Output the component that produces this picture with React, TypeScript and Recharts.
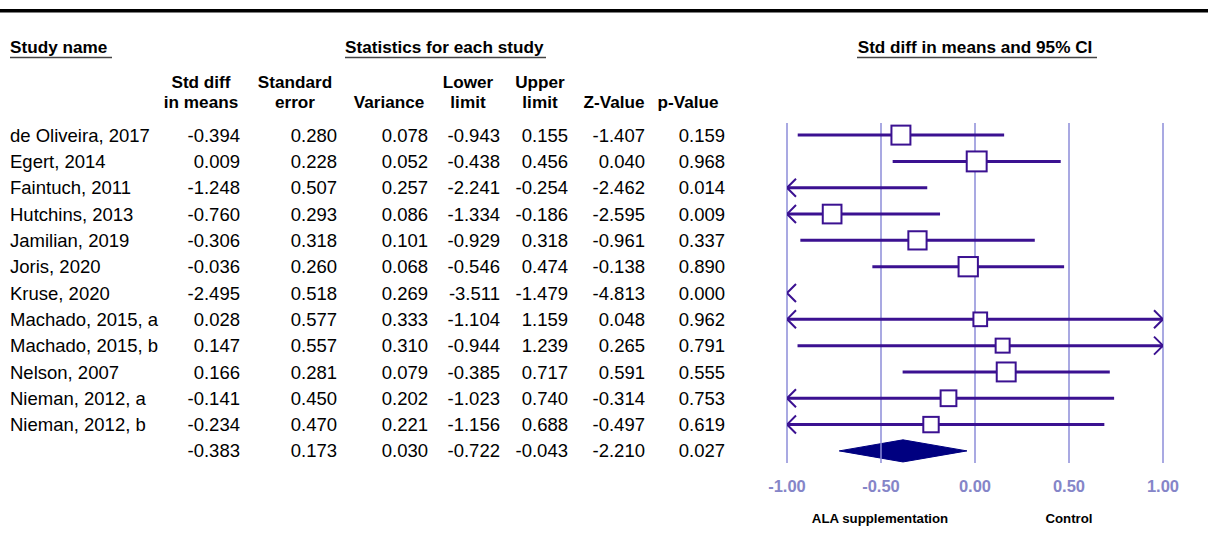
import React from 'react';
import { ComposedChart, XAxis, YAxis, ReferenceLine, Scatter, Area } from 'recharts';

// ---------- data ----------
const studyNames = [
  'de Oliveira, 2017',
  'Egert, 2014',
  'Faintuch, 2011',
  'Hutchins, 2013',
  'Jamilian, 2019',
  'Joris, 2020',
  'Kruse, 2020',
  'Machado, 2015, a',
  'Machado, 2015, b',
  'Nelson, 2007',
  'Nieman, 2012, a',
  'Nieman, 2012, b',
];
const stdDiff = [-0.394, 0.009, -1.248, -0.76, -0.306, -0.036, -2.495, 0.028, 0.147, 0.166, -0.141, -0.234];
const stdErr = [0.28, 0.228, 0.507, 0.293, 0.318, 0.26, 0.518, 0.577, 0.557, 0.281, 0.45, 0.47];
const variance = [0.078, 0.052, 0.257, 0.086, 0.101, 0.068, 0.269, 0.333, 0.31, 0.079, 0.202, 0.221];
const lowerLimit = [-0.943, -0.438, -2.241, -1.334, -0.929, -0.546, -3.511, -1.104, -0.944, -0.385, -1.023, -1.156];
const upperLimit = [0.155, 0.456, -0.254, -0.186, 0.318, 0.474, -1.479, 1.159, 1.239, 0.717, 0.74, 0.688];
const zValue = [-1.407, 0.04, -2.462, -2.595, -0.961, -0.138, -4.813, 0.048, 0.265, 0.591, -0.314, -0.497];
const pValue = [0.159, 0.968, 0.014, 0.009, 0.337, 0.89, 0.0, 0.962, 0.791, 0.555, 0.753, 0.619];
// pooled row: std diff, std err, variance, lower, upper, z, p
const pooled = [-0.383, 0.173, 0.03, -0.722, -0.043, -2.21, 0.027];

const xTicks = [-1, -0.5, 0, 0.5, 1];
const sideLabels = ['ALA supplementation', 'Control'];
const sectionTitles = ['Study name', 'Statistics for each study', 'Std diff in means and 95% CI'];
const columnHeads = [
  ['Std diff', 'in means'],
  ['Standard', 'error'],
  ['', 'Variance'],
  ['Lower', 'limit'],
  ['Upper', 'limit'],
  ['', 'Z-Value'],
  ['', 'p-Value'],
];

// ---------- layout / style ----------
const W = 1208;
const H = 534;
const PLOT_LEFT = 787;
const PLOT_RIGHT = 1163;
const PLOT_TOP = 123;
const PLOT_BOTTOM = 463;
const XAXIS_H = 30;
const PAD_TOP = 0.46;
const PAD_BOTTOM = 0.46;
const N_ROWS = studyNames.length + 1;
const Y_DOMAIN: [number, number] = [-PAD_TOP, N_ROWS - 1 + PAD_BOTTOM];
const STEP = (PLOT_BOTTOM - PLOT_TOP) / (Y_DOMAIN[1] - Y_DOMAIN[0]);
const rowY = (i: number) => PLOT_TOP + (i + PAD_TOP) * STEP;

const FONT = "'Liberation Sans', Arial, Helvetica, sans-serif";
const SX_HEAD = 1.06;
const SX_DATA = 1.0;
const DATA_SIZE = 18.5;
const HEAD_SIZE = 16.2;
const PURPLE = '#3b1191';
const GRID = '#8c8cd8';
const TICK = '#8585c8';
const NAVY = '#000080';

const colRight = [240, 337, 428, 500, 568, 645, 725];
const headCenter = [201, 295, 389, 468, 540, 614, 688];

// ---------- derived series (through chart scales) ----------
const segData = studyNames
  .map((_, i) => ({ i, lo: Math.max(lowerLimit[i], -1), hi: Math.min(upperLimit[i], 1) }))
  .filter((s) => s.hi > s.lo);

const arrowData: { x: number; y: number; dir: number }[] = [];
studyNames.forEach((_, i) => {
  if (lowerLimit[i] < -1) arrowData.push({ x: -1, y: i, dir: -1 });
  if (upperLimit[i] > 1) arrowData.push({ x: 1, y: i, dir: 1 });
});

const boxData = studyNames
  .map((_, i) => ({ x: stdDiff[i], y: i, v: variance[i] }))
  .filter((d) => d.x >= -1 && d.x <= 1);

const pooledRow = N_ROWS - 1;
const DIAMOND_HALF = 0.42;
const diamondData = [
  { x: pooled[3], band: [pooledRow, pooledRow] },
  { x: pooled[0], band: [pooledRow - DIAMOND_HALF, pooledRow + DIAMOND_HALF] },
  { x: pooled[4], band: [pooledRow, pooledRow] },
];

const BoxShape = (props: any) => {
  const { cx, cy, payload } = props;
  if (cx == null || cy == null) return <g />;
  const s = 10 * Math.sqrt(1 / (payload.v + 0.2));
  return <rect x={cx - s / 2} y={cy - s / 2} width={s} height={s} fill="#fff" stroke={PURPLE} strokeWidth={2} />;
};

const ArrowShape = (props: any) => {
  const { cx, cy, payload } = props;
  if (cx == null || cy == null) return <g />;
  const d = -payload.dir * 9;
  return (
    <path
      d={`M${cx + d},${cy - 9} L${cx},${cy} L${cx + d},${cy + 9}`}
      fill="none"
      stroke={PURPLE}
      strokeWidth={2}
    />
  );
};

const T = ({ x, y, anchor = 'start', bold = false, size = DATA_SIZE, fill = '#000', sx = SX_DATA, children }: any) => (
  <text
    transform={`translate(${x},${y}) scale(${sx},1)`}
    textAnchor={anchor}
    fontWeight={bold ? 'bold' : 'normal'}
    fontSize={size}
    fill={fill}
    fontFamily={FONT}
  >
    {children}
  </text>
);

const fmt = (v: number) => v.toFixed(3);

export default function App() {
  const rowsValues = studyNames.map((_, i) => [
    stdDiff[i],
    stdErr[i],
    variance[i],
    lowerLimit[i],
    upperLimit[i],
    zValue[i],
    pValue[i],
  ]);
  const plotCenter = (PLOT_LEFT + PLOT_RIGHT) / 2;
  return (
    <div style={{ position: 'absolute', left: 0, top: 0, width: W, height: H, background: '#fff' }}>
      <ComposedChart
        width={W}
        height={H}
        margin={{ top: PLOT_TOP, right: W - PLOT_RIGHT, bottom: H - PLOT_BOTTOM - XAXIS_H, left: PLOT_LEFT }}
        style={{ position: 'absolute', left: 0, top: 0 }}
      >
        <XAxis
          type="number"
          dataKey="x"
          domain={[-1, 1]}
          ticks={xTicks}
          height={XAXIS_H}
          allowDataOverflow
          axisLine={false}
          tickLine={false}
          tickSize={6}
          tickMargin={11}
          interval={0}
          tickFormatter={(v: number) => v.toFixed(2)}
          tick={{ fill: TICK, fontSize: 16.5, fontWeight: 'bold', fontFamily: FONT }}
        />
        <YAxis type="number" dataKey="y" domain={Y_DOMAIN} reversed hide allowDataOverflow />
        {xTicks.map((t) => (
          <ReferenceLine key={`g${t}`} x={t} stroke={GRID} strokeWidth={1.5} />
        ))}
        {segData.map((s) => (
          <ReferenceLine
            key={`s${s.i}`}
            segment={[
              { x: s.lo, y: s.i },
              { x: s.hi, y: s.i },
            ]}
            stroke={PURPLE}
            strokeWidth={3}
          />
        ))}
        <Area
          data={diamondData}
          dataKey="band"
          type="linear"
          fill={NAVY}
          fillOpacity={1}
          stroke={NAVY}
          strokeWidth={1}
          isAnimationActive={false}
          dot={false}
          activeDot={false}
        />
        <Scatter data={arrowData} shape={ArrowShape} isAnimationActive={false} />
        <Scatter data={boxData} shape={BoxShape} isAnimationActive={false} />
      </ComposedChart>
      <svg
        width={W}
        height={H}
        style={{ position: 'absolute', left: 0, top: 0, pointerEvents: 'none' }}
      >
        <rect x={0} y={9} width={W} height={3.5} fill="#000" />
        <T x={10} y={53} bold size={HEAD_SIZE} sx={SX_HEAD}>{sectionTitles[0]}</T>
        <line x1={10} x2={112} y1={57.5} y2={57.5} stroke="#444" strokeWidth={1.5} />
        <T x={345} y={53} bold size={HEAD_SIZE} sx={SX_HEAD}>{sectionTitles[1]}</T>
        <line x1={345} x2={546} y1={57.5} y2={57.5} stroke="#444" strokeWidth={1.5} />
        <T x={plotCenter} y={53} anchor="middle" bold size={HEAD_SIZE} sx={SX_HEAD}>{sectionTitles[2]}</T>
        <line x1={857} x2={1097} y1={57.5} y2={57.5} stroke="#444" strokeWidth={1.5} />
        {columnHeads.map((h, c) => (
          <g key={`h${c}`}>
            {h[0] ? (
              <T x={headCenter[c]} y={87.5} anchor="middle" bold size={HEAD_SIZE} sx={SX_HEAD}>{h[0]}</T>
            ) : null}
            <T x={headCenter[c]} y={108} anchor="middle" bold size={HEAD_SIZE} sx={SX_HEAD}>{h[1]}</T>
          </g>
        ))}
        {studyNames.map((name, i) => (
          <g key={`r${i}`}>
            <T x={10} y={rowY(i) + 6.6}>{name}</T>
            {rowsValues[i].map((v, c) => (
              <T key={c} x={colRight[c]} y={rowY(i) + 6.6} anchor="end">{fmt(v)}</T>
            ))}
          </g>
        ))}
        {pooled.map((v, c) => (
          <T key={`p${c}`} x={colRight[c]} y={rowY(pooledRow) + 6.6} anchor="end">{fmt(v)}</T>
        ))}
        <T x={880} y={523} anchor="middle" bold size={12.5} sx={SX_HEAD}>{sideLabels[0]}</T>
        <T x={1069} y={523} anchor="middle" bold size={12.5} sx={SX_HEAD}>{sideLabels[1]}</T>
      </svg>
    </div>
  );
}
